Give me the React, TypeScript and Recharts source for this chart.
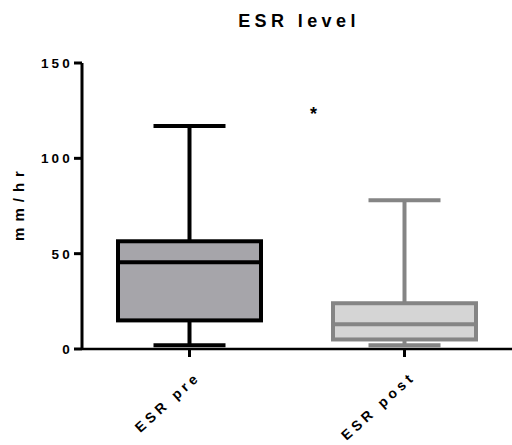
import React from 'react';
import { ComposedChart, Bar, XAxis, YAxis, ReferenceDot } from 'recharts';

const categories = ['ESR pre', 'ESR post'];
const mins = [2, 2];
const q1s = [15, 5];
const medians = [45.5, 13];
const q3s = [56.5, 24];
const maxs = [117, 78];
const fills = ['#a6a5aa', '#d5d5d5'];
const strokes = ['#000000', '#858585'];
const yTicks = [0, 50, 100, 150];
const title = 'ESR level';
const yLabel = 'mm/hr';

const data = categories.map((name, i) => ({
  name,
  range: [mins[i], maxs[i]],
  min: mins[i],
  q1: q1s[i],
  median: medians[i],
  q3: q3s[i],
  max: maxs[i],
  fill: fills[i],
  stroke: strokes[i],
}));

const FONT = '"Liberation Sans", Arial, sans-serif';

const BoxShape = (props: any) => {
  const { x, y, width, height, payload } = props;
  const { min, q1, median, q3, max, fill, stroke } = payload;
  const k = height / (max - min);
  const py = (v: number) => y + (max - v) * k;
  const cx = x + width / 2;
  const capW = 72;
  const sw = 4;
  return (
    <g>
      <line x1={cx} x2={cx} y1={py(max)} y2={py(q3)} stroke={stroke} strokeWidth={sw} />
      <line x1={cx} x2={cx} y1={py(min)} y2={py(q1)} stroke={stroke} strokeWidth={sw} />
      <line x1={cx - capW / 2} x2={cx + capW / 2} y1={py(max)} y2={py(max)} stroke={stroke} strokeWidth={sw} />
      <line x1={cx - capW / 2} x2={cx + capW / 2} y1={py(min)} y2={py(min)} stroke={stroke} strokeWidth={sw} />
      <rect x={x + sw / 2} y={py(q3)} width={width - sw} height={py(q1) - py(q3)} fill={fill} stroke={stroke} strokeWidth={sw} />
      <line x1={x + sw / 2} x2={x + width - sw / 2} y1={py(median)} y2={py(median)} stroke={stroke} strokeWidth={sw} />
    </g>
  );
};

const YTick = (props: any) => {
  const { x, y, payload } = props;
  return (
    <text x={x + 3} y={y + 5} textAnchor="end" fontFamily={FONT} fontWeight="bold" fontSize={13.5} letterSpacing={3.2} fill="#000">
      {payload.value}
    </text>
  );
};

const XTick = (props: any) => {
  const { x, y, payload } = props;
  const tx = x + 12;
  const ty = y + 19;
  return (
    <text x={tx} y={ty} textAnchor="end" transform={`rotate(-42, ${tx}, ${ty})`} fontFamily={FONT} fontWeight="bold" fontSize={14} letterSpacing={4} fill="#000">
      {payload.value}
    </text>
  );
};

const YLabel = (props: any) => {
  const { viewBox } = props;
  const lx = 23.5;
  const ly = viewBox.y + viewBox.height / 2 - 3;
  return (
    <text x={lx} y={ly} textAnchor="middle" transform={`rotate(-90, ${lx}, ${ly})`} fontFamily={FONT} fontWeight="bold" fontSize={15} letterSpacing={6} fill="#000">
      {yLabel}
    </text>
  );
};

const Star = (props: any) => {
  const { cx, cy } = props;
  return (
    <text x={cx - 91} y={cy + 7} textAnchor="middle" fontFamily={FONT} fontWeight="bold" fontSize={18} fill="#000">
      *
    </text>
  );
};

export default function App() {
  return (
    <div style={{ position: 'absolute', left: 0, top: 0, width: 512, height: 445, background: '#fff' }}>
      <svg width={512} height={40} style={{ position: 'absolute', left: 0, top: 0 }}>
        <text x={299} y={27} textAnchor="middle" fontFamily={FONT} fontWeight="bold" fontSize={18} letterSpacing={4.4} fill="#000">
          {title}
        </text>
      </svg>
      <div style={{ position: 'absolute', left: 0, top: 0 }}>
        <ComposedChart width={512} height={445} data={data} margin={{ top: 63, right: 0, bottom: 0, left: 0 }}>
          <YAxis
            type="number"
            domain={[0, 150]}
            ticks={yTicks}
            width={82}
            axisLine={{ stroke: '#000', strokeWidth: 3 }}
            tickLine={{ stroke: '#000', strokeWidth: 3 }}
            tickSize={8}
            tickMargin={4}
            tick={<YTick />}
            label={<YLabel />}
          />
          <XAxis
            dataKey="name"
            type="category"
            height={96}
            interval={0}
            axisLine={{ stroke: '#000', strokeWidth: 2.5 }}
            tickLine={{ stroke: '#000', strokeWidth: 3 }}
            tickSize={8}
            tick={<XTick />}
          />
          <Bar dataKey="range" barSize={147} shape={<BoxShape />} isAnimationActive={false} />
          <ReferenceDot x="ESR post" y={124} r={0} shape={<Star />} />
        </ComposedChart>
      </div>
    </div>
  );
}
